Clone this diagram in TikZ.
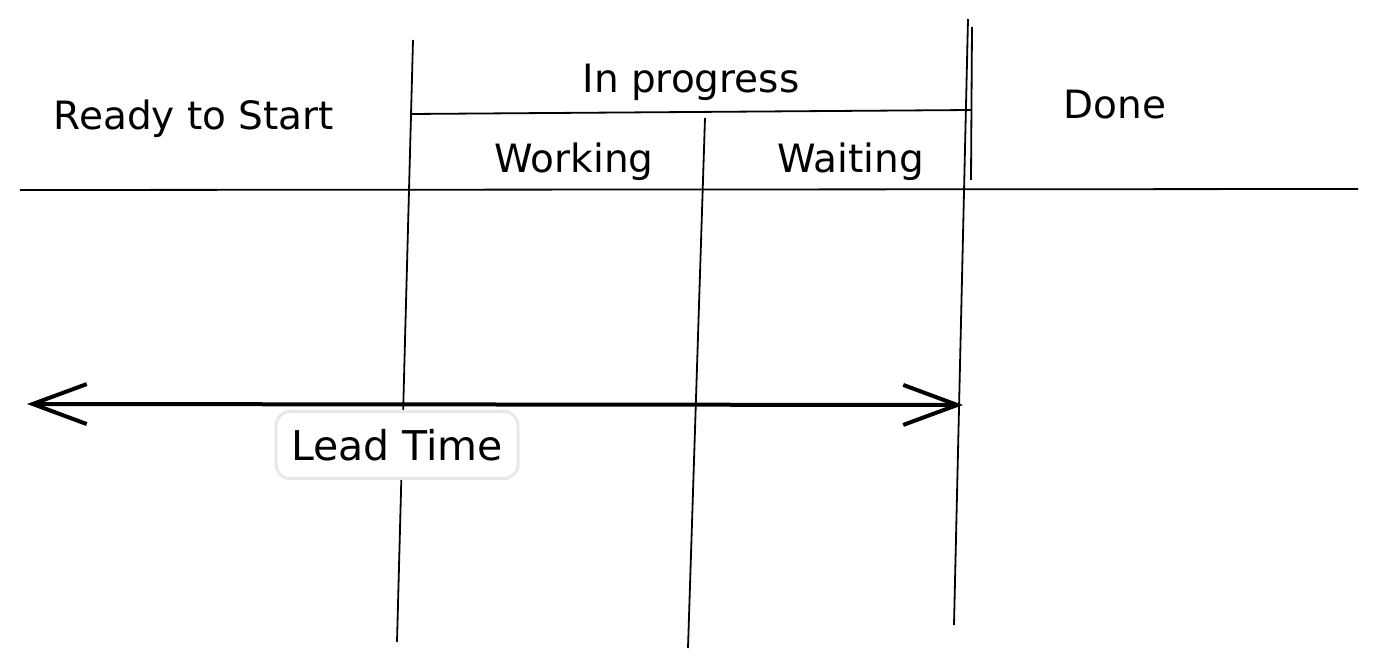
\documentclass[tikz,border=0pt]{standalone}
\usepackage{fontspec}
\setmainfont{DejaVu Sans}
\usetikzlibrary{arrows.meta}

\begin{document}
\begin{tikzpicture}[x=0.5pt, y=-0.5pt,
    colname/.style={font=\fontsize{19.5}{24}\selectfont, inner sep=0pt},
    rule/.style={line width=0.9pt},
    leadbox/.style={draw=black!9, line width=1.5pt, fill=white, rounded corners=7pt,
        minimum width=121pt, minimum height=33.5pt, font=\fontsize{20.5}{25}\selectfont}]
    \useasboundingbox (0,0) rectangle (1378,668);

    % column heads
    \node[colname] (ready) at (194,119) {Ready to Start};
    \node[colname] (progress) at (691,82) {In progress};
    \node[colname] (working) at (574,162) {Working};
    \node[colname] (waiting) at (851,162) {Waiting};
    \node[colname] (done) at (1115,105) {Done};

    % header lines
    \coordinate (hl) at (20,190);
    \coordinate (hr) at (1358,189);
    \draw[rule] (hl) -- (hr);
    \coordinate (pl) at (410,114);
    \coordinate (pr) at (972,110);
    \draw[rule] (pl) -- (pr);

    % column borders
    \foreach \n/\xa/\ya/\xb/\yb in {1/413/40/397/642, 2/705/118/688/648, 3/968/19/954/625} {
        \coordinate (top\n) at (\xa,\ya);
        \coordinate (bot\n) at (\xb,\yb);
        \draw[rule] (top\n) -- (bot\n);
    }
    \coordinate (top4) at (972,27);
    \coordinate (bot4) at (971,180);
    \draw[rule] (top4) -- (bot4);

    % lead time
    \coordinate (start) at (27,404);
    \coordinate (finish) at (963,405);
    \draw[line width=2pt, line cap=round,
        {Straight Barb[length=27pt, width=20pt]}-{Straight Barb[length=27pt, width=20pt]}]
        (start) -- (finish);
    \node[leadbox] (lead) at (397,445) {Lead Time};

\end{tikzpicture}
\end{document}
